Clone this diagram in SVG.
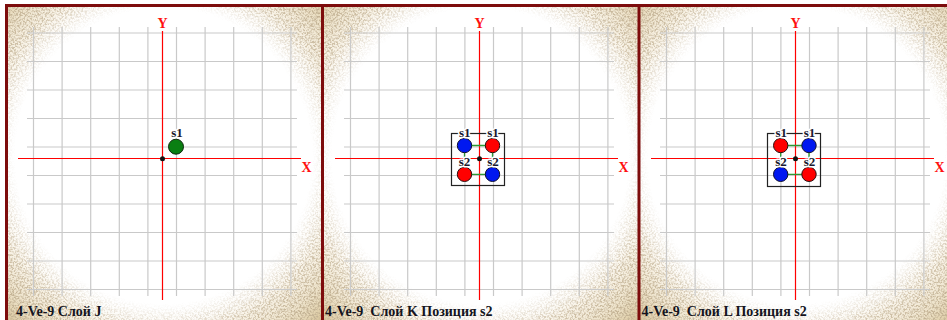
<svg xmlns="http://www.w3.org/2000/svg" xmlns:xlink="http://www.w3.org/1999/xlink" width="947" height="320" viewBox="0 0 947 320">
<style>
.grid{stroke:#c9c9c9;stroke-width:1.2;fill:none}
.axis{stroke:#ff0000;stroke-width:1.2;fill:none}
.axl{font-family:"Liberation Serif",serif;font-weight:bold;font-size:14px;fill:#ff1010;text-anchor:middle}
.lbl{font-family:"Liberation Serif",serif;font-weight:bold;font-size:13px;fill:#1a1a30;text-anchor:middle;paint-order:stroke;stroke:#fff;stroke-width:3px;stroke-linejoin:round}
.ttl{font-family:"Liberation Serif",serif;font-weight:bold;font-size:14px;fill:#141420}
.red{fill:#f00;stroke:#2a1010;stroke-width:1}
.blue{fill:#0018f0;stroke:#101030;stroke-width:1}
.green{fill:#0a7f12;stroke:#0c2a0c;stroke-width:1}
.box{fill:none;stroke:#222;stroke-width:1.2}
.link{fill:none;stroke:#2f9a34;stroke-width:1.3}
.bord{fill:#7d0c0c}
</style>
<defs>
<radialGradient id="vig" cx="0.5" cy="0.48" r="0.71">
<stop offset="0" stop-color="#fff" stop-opacity="0"/>
<stop offset="0.66" stop-color="#fff" stop-opacity="0"/>
<stop offset="0.8" stop-color="#f5eddc" stop-opacity="0.75"/>
<stop offset="0.92" stop-color="#ebdfc4" stop-opacity="1"/>
<stop offset="1" stop-color="#dccaa2" stop-opacity="1"/>
</radialGradient>
<filter id="grain" x="0" y="0" width="1" height="1">
<feTurbulence type="fractalNoise" baseFrequency="0.55" numOctaves="3" seed="7" result="n"/>
<feColorMatrix in="n" type="matrix" values="0 0 0 0 0.55 0 0 0 0 0.45 0 0 0 0 0.3 3.6 0 0 0 -1.45" result="spk"/>
<feComposite in="spk" in2="SourceGraphic" operator="in" result="spk2"/>
<feMerge><feMergeNode in="SourceGraphic"/><feMergeNode in="spk2"/></feMerge>
</filter>
<g id="paper">
<rect x="5" y="4" width="317" height="316" fill="#fff"/>
<rect x="5" y="4" width="317" height="316" fill="url(#vig)" filter="url(#grain)"/>
</g>
<g id="plane">
<path class="grid" d="M33.5 27V296M62.1 27V296M90.7 27V296M119.3 27V296M147.9 27V296M176.5 27V296M205.1 27V296M233.7 27V296M262.3 27V296M290.9 27V296M27 33H297M27 61.5H297M27 90H297M27 118.5H297M27 147H297M27 175.5H297M27 204H297M27 232.5H297M27 261H297M27 289.5H297"/>
<path class="axis" d="M162.5 31V300M18 158.5H301"/>
<text class="axl" x="162.5" y="28">Y</text>
<text class="axl" x="306.5" y="172">X</text>
</g>
</defs>
<rect width="947" height="320" fill="#fff"/>
<g id="panelJ">
<use xlink:href="#paper"/>
<use xlink:href="#plane"/>
<text class="ttl" x="16" y="316">4-Ve-9 Слой J</text>
</g>
<g id="panelK" transform="translate(317,0)">
<use xlink:href="#paper"/>
<use xlink:href="#plane"/>
<text class="ttl" x="8" y="316" xml:space="preserve">4-Ve-9  Слой K Позиция s2</text>
</g>
<g id="panelL" transform="translate(633,0)">
<use xlink:href="#paper"/>
<use xlink:href="#plane"/>
<text class="ttl" x="8.5" y="316" xml:space="preserve">4-Ve-9  Слой L Позиция s2</text>
</g>
<g id="boxes">
<rect class="box" x="451.5" y="133.5" width="53" height="52"/>
<rect class="box" x="767.5" y="133.5" width="53" height="53"/>
</g>
<g id="connectors">
<path class="link" d="M464.5 145.5H492.5V174.3H464.5Z"/>
<path class="link" d="M780.7 145.5H809V174.3H780.7Z"/>
</g>
<g id="nodeJ-s1">
<circle class="green" cx="176" cy="146.7" r="7.5"/>
<text class="lbl" x="177" y="137">s1</text>
</g>
<g id="nodeK-s1a">
<circle class="blue" cx="464.5" cy="145.5" r="7.2"/>
<text class="lbl" x="464.8" y="136.7">s1</text>
</g>
<g id="nodeK-s1b">
<circle class="red" cx="492.5" cy="145.5" r="7.2"/>
<text class="lbl" x="493" y="136.7">s1</text>
</g>
<g id="nodeK-s2a">
<circle class="red" cx="464.5" cy="174.3" r="7.2"/>
<text class="lbl" x="464.5" y="166">s2</text>
</g>
<g id="nodeK-s2b">
<circle class="blue" cx="492.5" cy="174.3" r="7.2"/>
<text class="lbl" x="493" y="166">s2</text>
</g>
<g id="nodeL-s1a">
<circle class="red" cx="780.7" cy="145.5" r="7.2"/>
<text class="lbl" x="781.3" y="136.7">s1</text>
</g>
<g id="nodeL-s1b">
<circle class="blue" cx="809" cy="145.5" r="7.2"/>
<text class="lbl" x="809.5" y="136.7">s1</text>
</g>
<g id="nodeL-s2a">
<circle class="blue" cx="780.7" cy="174.3" r="7.2"/>
<text class="lbl" x="781" y="166">s2</text>
</g>
<g id="nodeL-s2b">
<circle class="red" cx="809" cy="174.3" r="7.2"/>
<text class="lbl" x="809.5" y="166">s2</text>
</g>
<g id="origins">
<circle cx="162.5" cy="158.7" r="2.5" fill="#111"/>
<circle cx="479.5" cy="158.7" r="2.5" fill="#111"/>
<circle cx="795.5" cy="158.7" r="2.5" fill="#111"/>
</g>
<g id="borders">
<rect class="bord" x="5" y="4" width="942" height="3"/>
<rect class="bord" x="5" y="4" width="3" height="316"/>
<rect class="bord" x="321" y="4" width="3" height="316"/>
<rect class="bord" x="637.5" y="4" width="3" height="316"/>
</g>
</svg>
